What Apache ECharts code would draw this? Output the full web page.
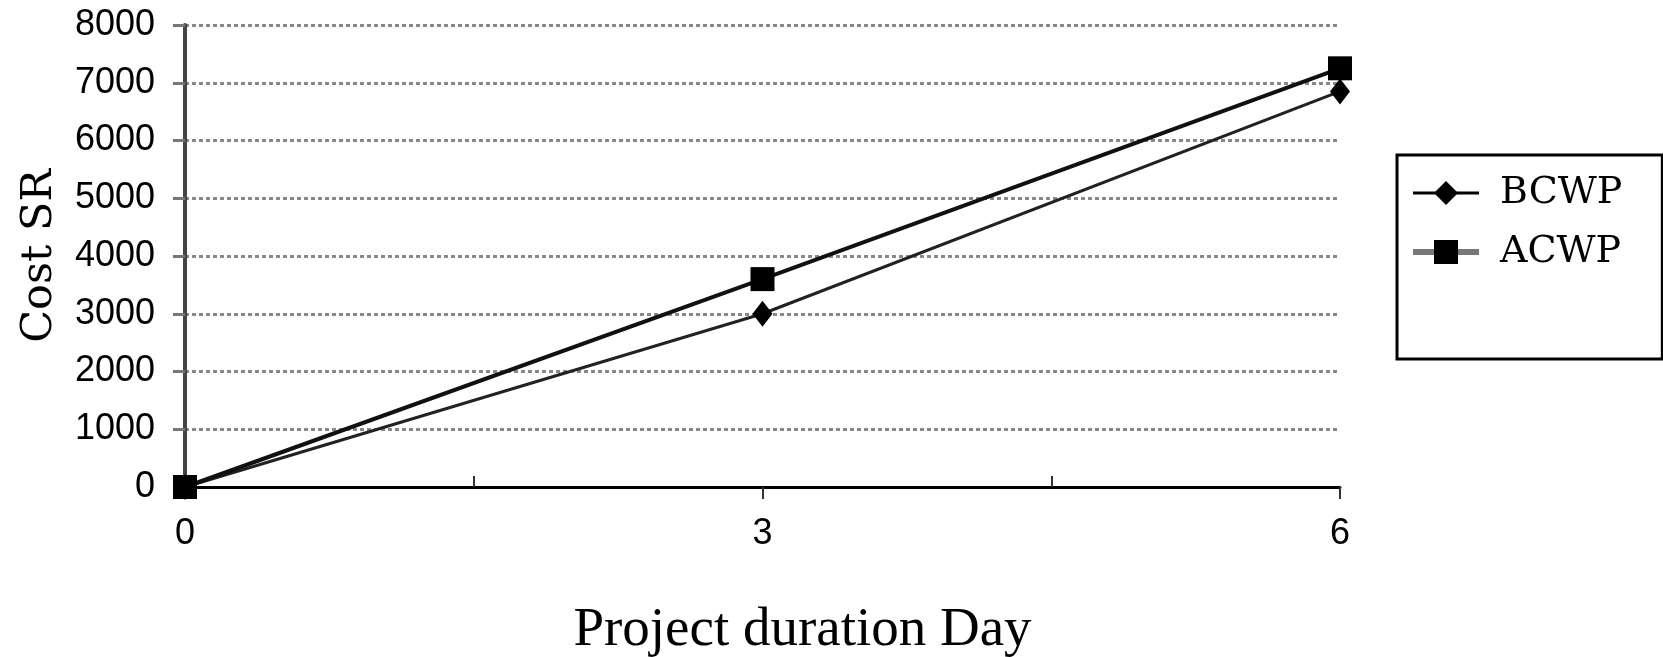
<!DOCTYPE html>
<html>
<head>
<meta charset="utf-8">
<script src="https://cdn.jsdelivr.net/npm/echarts@6/dist/echarts.min.js"></script>
<style>html,body{margin:0;padding:0;background:#fff}#c{width:1663px;height:657px}</style>
</head>
<body>
<div id="c"></div>
<script>
var days = [0, 3, 6];
var bcwp = [0, 3000, 6850];
var acwp = [0, 3600, 7250];
var yTicks = [0, 1000, 2000, 3000, 4000, 5000, 6000, 7000, 8000];
var xMinorTicks = [1.5, 4.5];

var legendText = { fontFamily: 'DejaVu Serif', fontSize: 38, color: '#000', lineHeight: 42, padding: [0, 0, 0, 16] };

var chart = echarts.init(document.getElementById('c'));
chart.setOption({
  animation: false,
  backgroundColor: '#fff',
  grid: { left: 185, right: 323, top: 25, bottom: 170, containLabel: false, outerBoundsMode: 'none' },
  xAxis: [{
    type: 'value', min: 0, max: 6, interval: 3,
    name: 'Project duration Day', nameLocation: 'middle', nameGap: 116,
    nameTextStyle: { fontFamily: 'Liberation Serif', fontSize: 55, color: '#000', padding: [0, 0, 0, 80] },
    axisLine: { show: true, lineStyle: { color: '#000', width: 3 } },
    axisTick: { show: true, length: 12, lineStyle: { color: '#333', width: 2 } },
    axisLabel: { fontFamily: 'Liberation Sans', fontSize: 36, color: '#000', margin: 29 },
    splitLine: { show: false }
  }, {
    type: 'value', min: 0, max: 6, interval: 1.5, position: 'bottom',
    axisLine: { show: false },
    axisTick: { show: true, inside: true, length: 11, customValues: xMinorTicks, lineStyle: { color: '#333', width: 2 } },
    axisLabel: { show: false },
    splitLine: { show: false }
  }],
  yAxis: {
    type: 'value', min: 0, max: 8000, interval: 1000,
    name: 'Cost SR', nameLocation: 'middle', nameGap: 124, nameRotate: 90,
    nameTextStyle: { fontFamily: 'DejaVu Serif', fontSize: 43, color: '#000' },
    axisLine: { show: true, lineStyle: { color: '#444', width: 4 } },
    axisTick: { show: true, length: 12, lineStyle: { color: '#777', width: 3 } },
    axisLabel: { fontFamily: 'Liberation Sans', fontSize: 36, color: '#000', margin: 30,
      customValues: yTicks, formatter: function (v) { return String(v); } },
    splitLine: { show: true, lineStyle: { color: '#888', width: 3, type: [4, 3] } }
  },
  legend: {
    orient: 'vertical', left: 1397, top: 155,
    borderColor: '#000', borderWidth: 3,
    padding: [17, 40, 86, 13],
    itemWidth: 66, itemHeight: 30, itemGap: 17,
    textStyle: legendText,
    data: [
      { name: 'BCWP', textStyle: legendText, lineStyle: { color: '#000', width: 3 } },
      { name: 'ACWP', textStyle: legendText, lineStyle: { color: '#777', width: 6 } }
    ]
  },
  series: [{
    name: 'BCWP', type: 'line',
    data: days.map(function (d, i) { return [d, bcwp[i]]; }),
    symbol: 'diamond', symbolSize: [20, 26],
    lineStyle: { color: '#222', width: 3 },
    itemStyle: { color: '#000' }
  }, {
    name: 'ACWP', type: 'line',
    data: days.map(function (d, i) { return [d, acwp[i]]; }),
    symbol: 'rect', symbolSize: 24,
    lineStyle: { color: '#111', width: 4 },
    itemStyle: { color: '#000' }
  }]
});
</script>
</body>
</html>
